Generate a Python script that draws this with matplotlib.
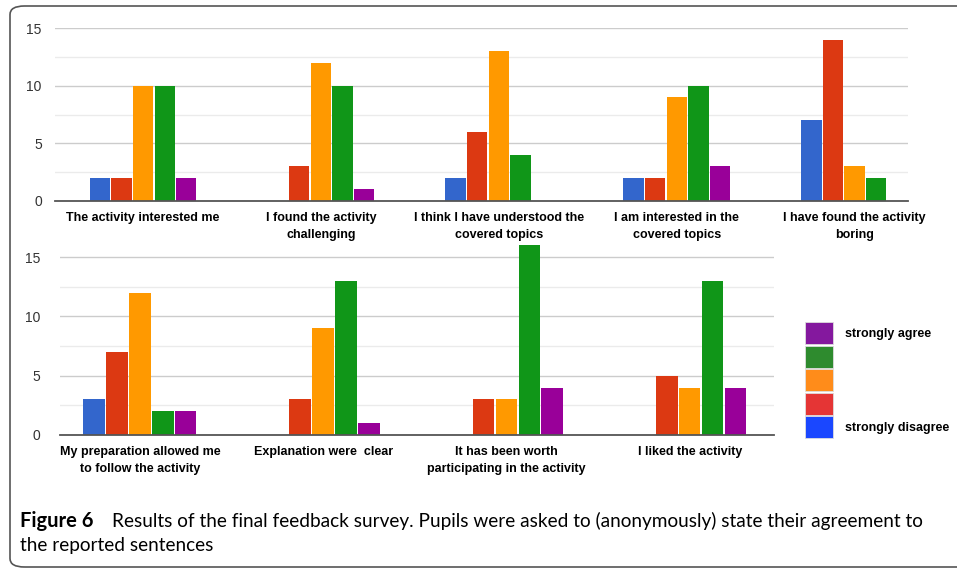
import numpy as np
import matplotlib
matplotlib.use("Agg")
import matplotlib.pyplot as plt
from matplotlib.patches import FancyBboxPatch, Rectangle

# survey data: counts per answer level (strongly disagree -> strongly agree)
top_labels = ["The activity interested me", "I found the activity\nchallenging",
              "I think I have understood the\ncovered topics", "I am interested in the\ncovered topics",
              "I have found the activity\nboring"]
top_blue = [2, 0, 2, 2, 7]
top_red = [2, 3, 6, 2, 14]
top_orange = [10, 12, 13, 9, 3]
top_green = [10, 10, 4, 10, 2]
top_purple = [2, 1, 0, 3, 0]

bot_labels = ["My preparation allowed me\nto follow the activity", "Explanation were  clear",
              "It has been worth\nparticipating in the activity", "I liked the activity"]
bot_blue = [3, 0, 0, 0]
bot_red = [7, 3, 3, 5]
bot_orange = [12, 9, 3, 4]
bot_green = [2, 13, 16, 13]
bot_purple = [2, 1, 4, 4]

bar_colors = ["#3366cc", "#dc3912", "#ff9900", "#109618", "#990099"]
legend_colors = ["#1a47ff", "#e53535", "#ff8c1a", "#2e8b2e", "#84189e"]
legend_text = ["strongly disagree", "", "", "", "strongly agree"]

W, H = 957, 570
fig = plt.figure(figsize=(W / 100, H / 100), dpi=100)


def px_axes(x0, x1, y_bottom, y_top):
    return fig.add_axes([x0 / W, 1 - y_bottom / H, (x1 - x0) / W, (y_bottom - y_top) / H])


def draw_panel(ax, labels, series, width, xlim, ylim, ypad):
    x = np.arange(len(labels))
    for i, (vals, c) in enumerate(zip(series, bar_colors)):
        offs = (i - 2) * width
        ax.bar(x + offs, vals, width * 0.94, color=c, zorder=3)
    ax.set_xlim(*xlim)
    ax.set_ylim(*ylim)
    ax.set_yticks([0, 5, 10, 15])
    ax.set_yticks([2.5, 7.5, 12.5], minor=True)
    ax.grid(axis="y", which="major", color="#cccccc", lw=1, zorder=0)
    ax.grid(axis="y", which="minor", color="#ebebeb", lw=1, zorder=0)
    for s in ["top", "right", "left"]:
        ax.spines[s].set_visible(False)
    ax.spines["bottom"].set_color("#555555")
    ax.spines["bottom"].set_linewidth(1.3)
    ax.spines["bottom"].set_zorder(4)
    ax.set_xticks(x)
    ax.set_xticklabels(labels, fontsize=9, fontweight="bold", family="Liberation Sans",
                       linespacing=1.5, va="top")
    ax.tick_params(axis="x", length=0, pad=8)
    ax.tick_params(axis="y", which="both", length=0, pad=ypad, labelsize=10, labelcolor="#333333")
    for t in ax.get_yticklabels():
        t.set_family("Liberation Sans")


ax1 = px_axes(55, 908, 201, 28)
draw_panel(ax1, top_labels, [top_blue, top_red, top_orange, top_green, top_purple],
           0.1215, (-0.495, 4.30), (0, 15), 9.5)

ax2 = px_axes(60, 774, 435, 241.6)
draw_panel(ax2, bot_labels, [bot_blue, bot_red, bot_orange, bot_green, bot_purple],
           0.125, (-0.436, 3.46), (0, 16.3), 14)

# legend drawn as colour squares
for i, c in enumerate(legend_colors):
    y_top = 416 - i * 23.5
    fig.patches.append(Rectangle((805 / W, 1 - (y_top + 22) / H), 28 / W, 22 / H,
                                 transform=fig.transFigure, color=c, ec="#dddddd", lw=0.6))
    if legend_text[i]:
        fig.text(845 / W, 1 - (y_top + 12) / H, legend_text[i], fontsize=9, fontweight="bold",
                 family="Liberation Sans", va="center", ha="left")

# rounded border, right side runs off the page
fig.patches.append(FancyBboxPatch((10 / W, 3 / H), 1.05, 1 - 9 / H,
                                  boxstyle="round,pad=0,rounding_size=0.015",
                                  transform=fig.transFigure, fc="none", ec="#555555", lw=1.2))

# caption
fig.text(20 / W, 1 - 521 / H, "Figure 6", fontsize=14.5, fontweight="bold", family="Lato",
         va="center", ha="left")
fig.text(112 / W, 1 - 521 / H,
         "Results of the final feedback survey. Pupils were asked to (anonymously) state their agreement to",
         fontsize=13.7, family="Lato", va="center", ha="left")
fig.text(20 / W, 1 - 546 / H, "the reported sentences", fontsize=13.7, family="Lato",
         va="center", ha="left")

fig.savefig("out.png", dpi=100)
